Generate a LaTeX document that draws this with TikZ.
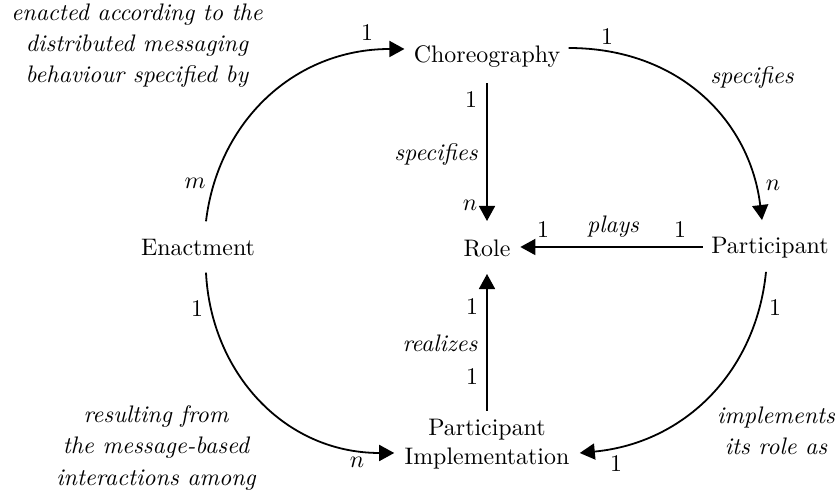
\documentclass[tikz,border=0pt]{standalone}
\usetikzlibrary{arrows.meta}
\begin{document}
\begin{tikzpicture}[x=0.4184pt,y=-0.4184pt,
  conn/.style={line width=0.75pt,-{Triangle[length=6.3pt,width=6.7pt]}},
  entity/.style={inner sep=3.33pt},
  rolename/.style={font=\itshape,align=center,inner sep=0pt},
  mult/.style={inner sep=0pt}]
\useasboundingbox (0,0) rectangle (837,491);

% concepts
\node[entity] (ch) at (487,57) {Choreography};
\node[entity] (ro) at (487,248) {Role};
\node[entity] (en) at (198,248) {Enactment};
\node[entity] (pa) at (770,248) {Participant};
\node[entity,align=center] (pi) at (487,444) {Participant\\Implementation};

% straight associations
\draw[conn] ([shift={(0,7)}]ch.south) -- ([shift={(0,-10)}]ro.north);
\draw[conn] ([shift={(0,-1)}]pa.west) -- ([shift={(1.5,-1)}]ro.east);
\draw[conn] (pi.north) -- ([shift={(0,9)}]ro.south);

% curved associations
\draw[conn] ([shift={(8,-10)}]en.north) .. controls +(12,-100) and +(-110,0) .. ([shift={(-1,-8)}]ch.west);
\draw[conn] ([shift={(0,-9)}]ch.east) .. controls +(110,0) and +(-12,-100) .. ([shift={(-8,-9)}]pa.north);
\draw[conn] ([shift={(-4,5)}]pa.south) .. controls +(-10,100) and +(105,-10) .. ([shift={(2,9)}]pi.east);
\draw[conn] ([shift={(8,8)}]en.south) .. controls +(5,100) and +(-110,0) .. ([shift={(-2,9)}]pi.west);

% role names
\node[rolename] (r1) at (137,46) {enacted according to the\\[1pt]distributed messaging\\[1pt]behaviour specified by};
\node[rolename] (r2) at (752,78) {specifies};
\node[rolename] (r3) at (436,155) {specifies};
\node[rolename] (r4) at (613,227) {plays};
\node[rolename] (r5) at (440,343) {realizes};
\node[rolename] (r6) at (156,448) {resulting from\\[1pt]the message-based\\[1pt]interactions among};
\node[rolename] (r7) at (776,431) {implements\\[1pt]its role as};

% multiplicities
\node[mult] (m1) at (367,33) {1};
\node[mult] (m2) at (195,183) {$m$};
\node[mult] (m3) at (607,37) {1};
\node[mult] (m4) at (773,185) {$n$};
\node[mult] (m5) at (471,100) {1};
\node[mult] (m6) at (470,205) {$n$};
\node[mult] (m7) at (543,230) {1};
\node[mult] (m8) at (680,230) {1};
\node[mult] (m9) at (472,307) {1};
\node[mult] (m10) at (472,377) {1};
\node[mult] (m11) at (197,309) {1};
\node[mult] (m12) at (357,462) {$n$};
\node[mult] (m13) at (616,464) {1};
\node[mult] (m14) at (775,308) {1};
\end{tikzpicture}
\end{document}
